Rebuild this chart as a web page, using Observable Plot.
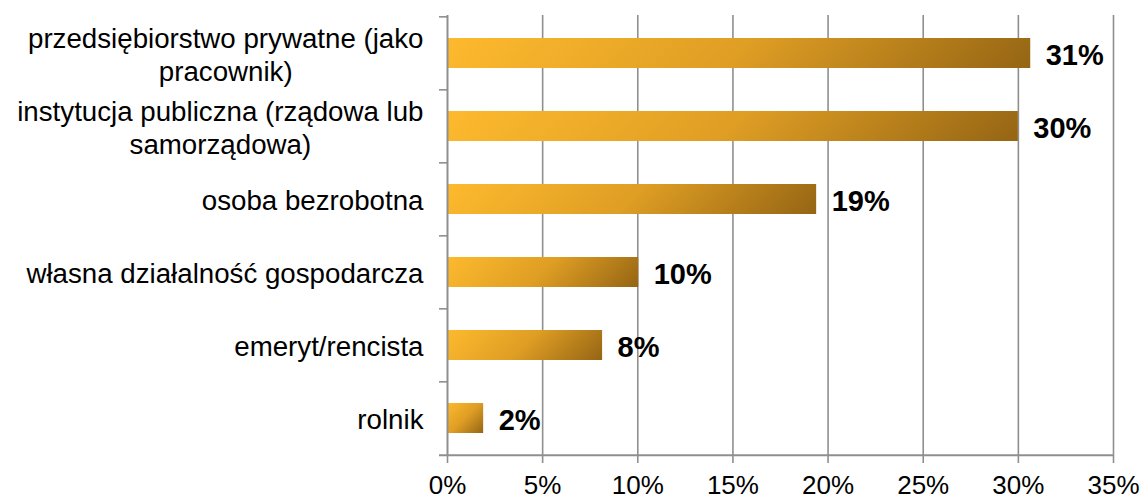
<!DOCTYPE html>
<html><head><meta charset="utf-8">
<script src="https://cdn.jsdelivr.net/npm/d3@7"></script>
<script src="https://cdn.jsdelivr.net/npm/@observablehq/plot@0.6"></script>
<style>body{margin:0;background:#fff;} svg{display:block;}</style>
</head><body><div id="chart"></div>
<script>
const categories = [
  "przedsiębiorstwo prywatne (jako\npracownik)",
  "instytucja publiczna (rządowa lub\nsamorządowa)",
  "osoba bezrobotna",
  "własna działalność gospodarcza",
  "emeryt/rencista",
  "rolnik"
];
const values = [30.65, 30.0, 19.4, 10.05, 8.15, 1.9];
const valueLabels = ["31%", "30%", "19%", "10%", "8%", "2%"];
const xTicks = [0, 5, 10, 15, 20, 25, 30, 35];

const W = 1143, H = 499, mT = 15, mB = 44, mL = 447, mR = 30;
const step = (H - mT - mB) / categories.length;
const data = categories.map((c, i) => ({category: c, value: values[i], label: valueLabels[i]}));
const grid = "#8f8f8f";

const plot = Plot.plot({
  width: W, height: H,
  marginTop: mT, marginBottom: mB, marginLeft: mL, marginRight: mR,
  style: {fontFamily: "'Liberation Sans', Arial, sans-serif", background: "#fff", color: "#000"},
  x: {domain: [0, 35], label: null},
  y: {domain: categories, paddingInner: 0.59, paddingOuter: 0.295, label: null},
  marks: [
    Plot.ruleX(xTicks.slice(1), {stroke: grid, strokeWidth: 1.6}),
    Plot.barX(data, {x: "value", y: "category", fill: "#E0A024"}),
    Plot.ruleX([0], {stroke: grid, strokeWidth: 2}),
    Plot.ruleY(categories, {y: d => d, x1: 0, x2: 0, insetLeft: -8, dy: -step / 2, stroke: grid, strokeWidth: 1.6}),
    Plot.ruleY([categories[categories.length - 1]], {y: d => d, x1: 0, x2: 35, insetLeft: -8, dy: step / 2, stroke: grid, strokeWidth: 2}),
    Plot.axisX(xTicks, {tickSize: 8, tickPadding: 12, tickFormat: d => d + "%", fontSize: 26, stroke: grid, strokeWidth: 1.6, fill: "#000", label: null}),
    Plot.axisY({tickSize: 0, tickPadding: 24, fontSize: 27.7, lineHeight: 1.2, fill: "#000", tickFormat: d => d, label: null}),
    Plot.text(data, {x: "value", y: "category", text: "label", dx: 15, dy: 2, textAnchor: "start", fontWeight: "bold", fontSize: 29, fill: "#000"})
  ]
});
document.getElementById("chart").appendChild(plot);

// Per-bar 45° gradient (light gold -> dark bronze)
const svg = d3.select(plot);
const defs = svg.insert("defs", ":first-child");
svg.selectAll('g[aria-label="bar"] rect').each(function(_, i) {
  const r = d3.select(this);
  const x = +r.attr("x"), y = +r.attr("y"), w = +r.attr("width"), h = +r.attr("height");
  const d = (w + h) / 2;
  const g = defs.append("linearGradient").attr("id", "barGrad" + i)
    .attr("gradientUnits", "userSpaceOnUse")
    .attr("x1", x).attr("y1", y).attr("x2", x + d).attr("y2", y + d);
  g.append("stop").attr("offset", 0).attr("stop-color", "#FDBA2E");
  g.append("stop").attr("offset", 0.5).attr("stop-color", "#DF9E24");
  g.append("stop").attr("offset", 1).attr("stop-color", "#956514");
  r.attr("fill", `url(#barGrad${i})`);
});

// Center multi-line category labels within a right-aligned block
svg.selectAll('g[aria-label="y-axis tick label"] text').each(function() {
  const spans = this.querySelectorAll("tspan");
  if (spans.length > 1) {
    let maxW = 0;
    spans.forEach(s => { maxW = Math.max(maxW, s.getComputedTextLength()); });
    this.setAttribute("text-anchor", "middle");
    spans.forEach(s => s.setAttribute("x", -maxW / 2));
  }
});
</script>
</body></html>
